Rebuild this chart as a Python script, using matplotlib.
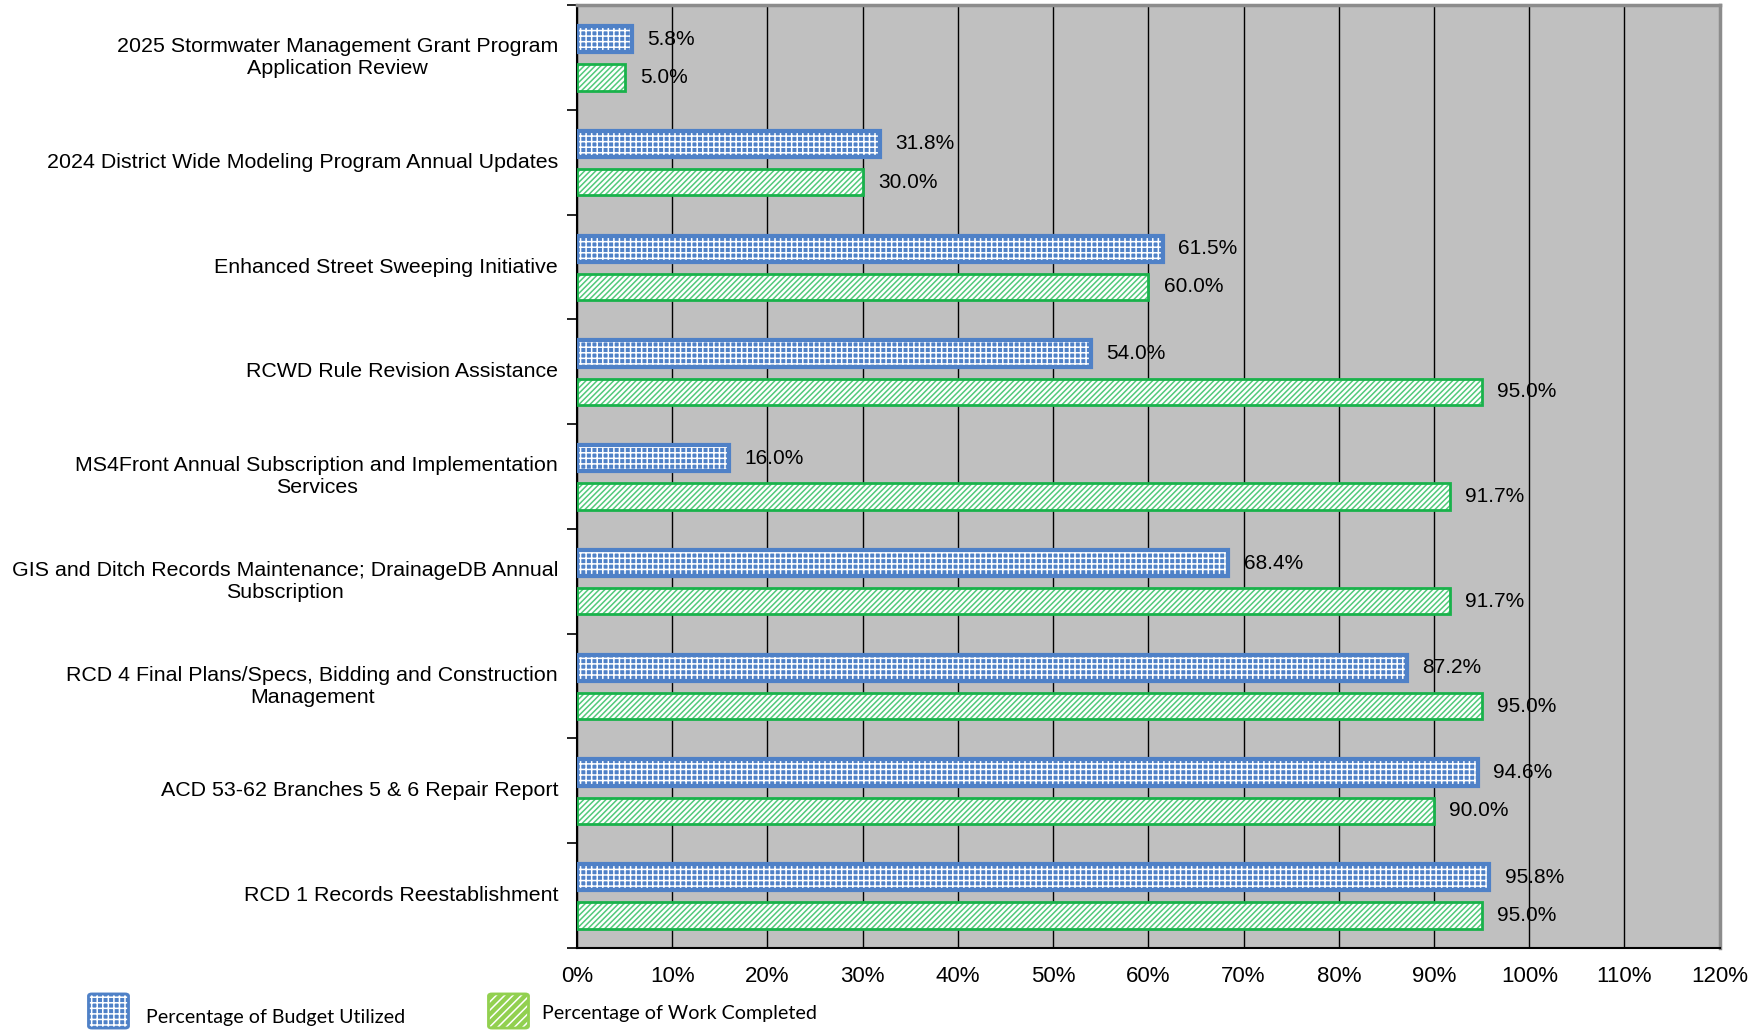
import numpy as np
import matplotlib.pyplot as plt
from matplotlib.patches import FancyBboxPatch

categories = [
    "2025 Stormwater Management Grant Program\nApplication Review",
    "2024 District Wide Modeling Program Annual Updates",
    "Enhanced Street Sweeping Initiative",
    "RCWD Rule Revision Assistance",
    "MS4Front Annual Subscription and Implementation\nServices",
    "GIS and Ditch Records Maintenance; DrainageDB Annual\nSubscription",
    "RCD 4 Final Plans/Specs, Bidding and Construction\nManagement",
    "ACD 53-62 Branches 5 & 6 Repair Report",
    "RCD 1 Records Reestablishment",
]
budget = [5.8, 31.8, 61.5, 54.0, 16.0, 68.4, 87.2, 94.6, 95.8]
work = [5.0, 30.0, 60.0, 95.0, 91.7, 91.7, 95.0, 90.0, 95.0]
xticks = list(range(0, 121, 10))

blue = "#4F81C7"
green = "#19B24B"
plt.rcParams['font.family'] = ['Liberation Sans', 'DejaVu Sans']
plt.rcParams['hatch.linewidth'] = 1.1

fig = plt.figure(figsize=(17.62, 10.32), dpi=100)
ax = fig.add_axes([0.3275, 0.0814, 0.6485, 0.9136])
ax.set_facecolor("#C0C0C0")

y = np.arange(len(categories))
h = 0.25
yb = y - 0.175
yw = y + 0.19

# budget bars: blue with white checker-like grid
ax.barh(yb, budget, height=h, color=blue, hatch="+++", edgecolor="white", linewidth=0, zorder=3)
ax.barh(yb, budget, height=h, fill=False, edgecolor=blue, linewidth=3, zorder=4)
# work bars: white with green diagonal hatch
ax.barh(yw, work, height=h, color="white", hatch="//////", edgecolor="#52C97A", linewidth=0, zorder=3)
ax.barh(yw, work, height=h, fill=False, edgecolor=green, linewidth=2, zorder=4)

for yy, v in zip(yb, budget):
    ax.text(v + 1.6, yy, f"{v:.1f}%", va="center", ha="left", fontsize=15, zorder=5)
for yy, v in zip(yw, work):
    ax.text(v + 1.6, yy, f"{v:.1f}%", va="center", ha="left", fontsize=15, zorder=5)

ax.set_xlim(0, 120)
ax.set_ylim(len(categories) - 0.5, -0.5)
ax.set_xticks(xticks)
ax.set_xticklabels([f"{t}%" for t in xticks], fontsize=16,
                   family=['Liberation Sans Narrow', 'Liberation Sans'])
ax.xaxis.grid(True, color="black", linewidth=1, zorder=1)
ax.set_axisbelow(True)
ax.tick_params(axis='x', length=0, pad=13)

ax.set_yticks(np.arange(-0.5, len(categories), 1))
ax.set_yticklabels([])
ax.tick_params(axis='y', direction='out', length=7, width=1.2, color="black")
for yy, lab in zip(y, categories):
    ax.text(-2.0, yy, lab, ha="right", va="center", multialignment="center",
            fontsize=15.4, transform=ax.transData)

ax.spines['left'].set_color("black")
ax.spines['bottom'].set_color("black")
ax.spines['left'].set_linewidth(1.5)
ax.spines['bottom'].set_linewidth(1.5)
ax.spines['top'].set_color("#8C8C8C")
ax.spines['right'].set_color("#8C8C8C")
ax.spines['top'].set_linewidth(2.5)
ax.spines['right'].set_linewidth(2.5)

# legend at bottom left
leg_font = ['Lato', 'DejaVu Sans']
p1 = FancyBboxPatch((92 / 1762, 1 - 1026 / 1032), 33 / 1762, 30 / 1032,
                    boxstyle="round,pad=0.002", transform=fig.transFigure,
                    facecolor=blue, edgecolor="white", hatch="+++", linewidth=0)
fig.patches.append(p1)
p1b = FancyBboxPatch((92 / 1762, 1 - 1026 / 1032), 33 / 1762, 30 / 1032,
                     boxstyle="round,pad=0.002", transform=fig.transFigure,
                     fill=False, edgecolor=blue, linewidth=2)
fig.patches.append(p1b)
p2 = FancyBboxPatch((492 / 1762, 1 - 1026 / 1032), 33 / 1762, 30 / 1032,
                    boxstyle="round,pad=0.002", transform=fig.transFigure,
                    facecolor="#92D050", edgecolor="white", hatch="////", linewidth=0)
fig.patches.append(p2)
p2b = FancyBboxPatch((492 / 1762, 1 - 1026 / 1032), 33 / 1762, 30 / 1032,
                     boxstyle="round,pad=0.002", transform=fig.transFigure,
                     fill=False, edgecolor="#92D050", linewidth=2)
fig.patches.append(p2b)
fig.text(146 / 1762, 1 - 1018 / 1032, "Percentage of Budget Utilized", fontsize=14.1,
         va="center", ha="left", family=leg_font)
fig.text(542 / 1762, 1 - 1014 / 1032, "Percentage of Work Completed", fontsize=14.1,
         va="center", ha="left", family=leg_font)

fig.savefig("out.png", dpi=100)
